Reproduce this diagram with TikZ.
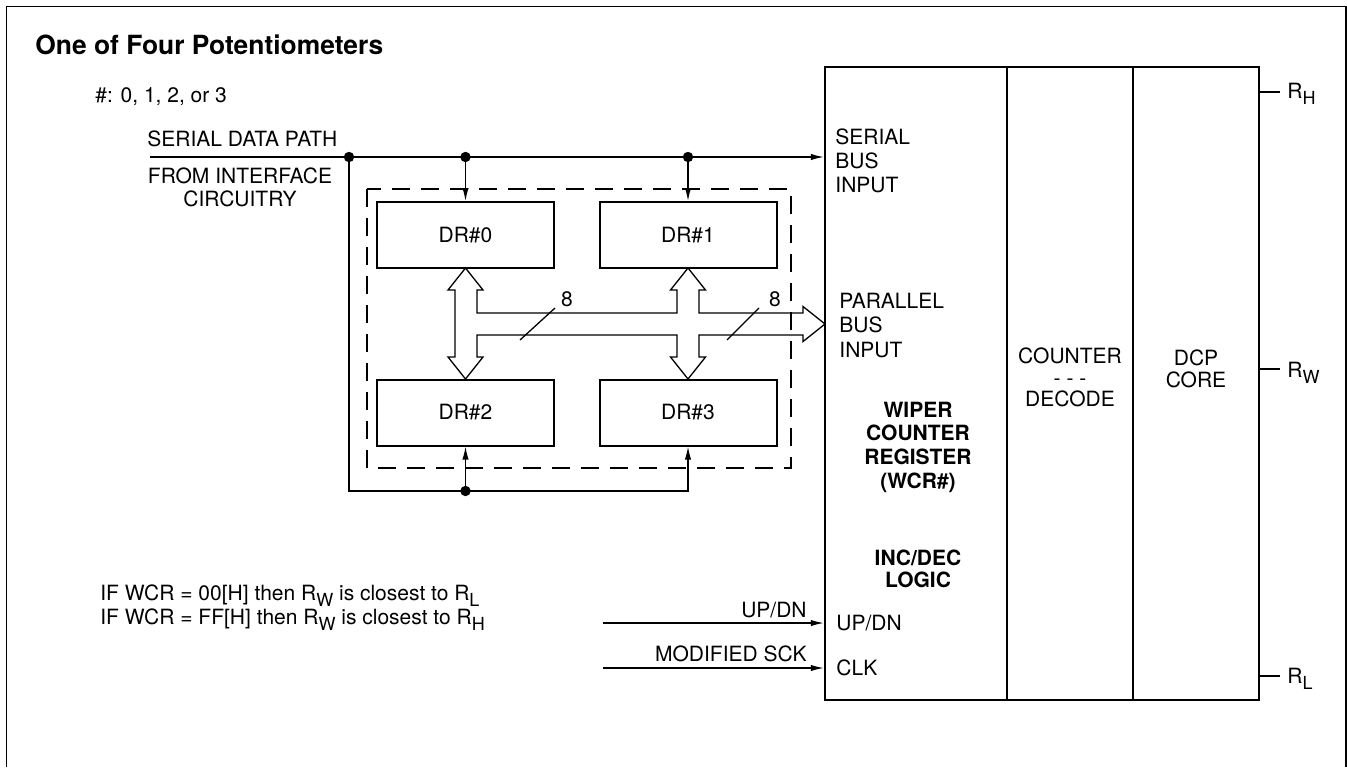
\documentclass[tikz,border=0pt]{standalone}
\usepackage{fontspec}
\setmainfont{TeX Gyre Heros}
\usetikzlibrary{arrows.meta}
\newcommand{\sbs}[1]{\raisebox{-0.32em}{\fontsize{9}{10}\selectfont #1}}
\begin{document}
\begin{tikzpicture}[x=0.5pt,y=-0.5pt,
  font=\fontsize{10.5}{12}\selectfont,
  wire/.style={line width=0.65pt},
  arr/.style={wire,-{Latex[length=6.5pt,width=3.2pt]}},
  reg/.style={draw,line width=1pt,minimum width=88.5pt,minimum height=33pt,inner sep=0pt},
  blk/.style={draw,line width=1.2pt,minimum height=316.5pt,inner sep=0pt},
  lbl/.style={inner sep=0pt},
  dsh/.style={wire,dash pattern=on 9pt off 5.5pt},
  jdot/.style={fill=black}]
\useasboundingbox (0,0) rectangle (1347,767);
% frame
\draw[line width=0.8pt] (6.5,767) -- (6.5,6.5) -- (1345.8,6.5) -- (1345.8,767);

% texts top-left
\node[lbl,anchor=base west,font=\bfseries\fontsize{13.2}{15}\selectfont] (title) at (35,54) {One of Four Potentiometers};
\node[lbl,anchor=base west] (hash) at (95,102) {\#: 0, 1, 2, or 3};
\node[lbl,anchor=base west] (sdp) at (147,146) {SERIAL DATA PATH};
\node[lbl,anchor=north,align=center,font=\fontsize{10.5}{11.5}\selectfont] (fic) at (240,167.5) {FROM INTERFACE\\CIRCUITRY};

% main blocks
\node[blk,minimum width=91pt] (wcr) at (916,383.5) {};
\node[blk,minimum width=63pt] (cnt) at (1070,383.5) {};
\node[blk,minimum width=63pt] (dcp) at (1196,383.5) {};

\node[lbl,anchor=north west,align=left,font=\fontsize{10.5}{12}\selectfont] (sbi) at (835,128) {SERIAL\\BUS\\INPUT};
\node[lbl,anchor=north west,align=left,font=\fontsize{10.5}{12.25}\selectfont] (pbi) at (839,292.5) {PARALLEL\\BUS\\INPUT};
\node[lbl,anchor=north,align=center,font=\bfseries\fontsize{10.5}{11.8}\selectfont] (wtx) at (918,401.5) {WIPER\\COUNTER\\REGISTER\\(WCR\#)};
\node[lbl,anchor=north,align=center,font=\bfseries\fontsize{10.5}{11}\selectfont] (itx) at (918,549.5) {INC/DEC\\LOGIC};
\node[lbl,anchor=north,align=center,font=\fontsize{10.5}{10.75}\selectfont] (ctx) at (1070,347.5) {COUNTER\\- - -\\DECODE};
\node[lbl,anchor=north,align=center,font=\fontsize{10.5}{11}\selectfont] (dtx) at (1196,349.5) {DCP\\CORE};
\node[lbl,anchor=base west] (iud) at (836,630) {UP/DN};
\node[lbl,anchor=base west] (iclk) at (836,675.5) {CLK};

% R terminals
\node[lbl,anchor=base west] (rh) at (1287,98) {R\sbs{H}};
\node[lbl,anchor=base west] (rw) at (1287,377) {R\sbs{W}};
\node[lbl,anchor=base west] (rl) at (1287,683) {R\sbs{L}};
\draw[wire] (dcp.east |- 0,92) -- (1280,92);
\draw[wire] (dcp.east |- 0,369) -- (1280,369);
\draw[wire] (dcp.east |- 0,676) -- (1280,676);

% data registers
\node[reg] (dr0) at (465.5,235) {DR\#0};
\node[reg] (dr1) at (688,235) {DR\#1};
\node[reg] (dr2) at (465.5,412.5) {DR\#2};
\node[reg] (dr3) at (688,412.5) {DR\#3};

% serial path
\coordinate (sin) at (150,157);
\coordinate (sd0) at (349,157);
\coordinate (sd1) at (465.5,157);
\coordinate (sd2) at (688,157);
\coordinate (c1) at (349,491);
\coordinate (bd) at (465.5,491);
\coordinate (c2) at (688,491);
\draw[arr] (sin) -- (sin -| wcr.west);
\draw[arr] (sd1) -- (dr0.north);
\draw[arr] (sd2) -- (dr1.north);
\draw[wire] (sd0) -- (c1) -- (bd);
\draw[arr] (bd) -- (dr2.south);
\draw[arr] (bd) -- (c2) -- (dr3.south);
\foreach \p in {sd0,sd1,sd2,bd} \fill[jdot] (\p) circle (2.6pt);

% parallel bus (hollow arrows)
\draw[wire,fill=white]
  (465.5,268) -- (483,290) -- (477,290) -- (477,313) -- (677,313) -- (677,290) -- (670.5,290)
  -- (688,268) -- (705.5,290) -- (699,290) -- (699,313) -- (803,313) -- (803,306.5)
  -- (825,324) -- (803,341.5) -- (803,335) -- (699,335) -- (699,357) -- (705.5,357)
  -- (688,379) -- (670.5,357) -- (677,357) -- (677,335) -- (477,335) -- (477,357)
  -- (483,357) -- (465.5,379) -- (448,357) -- (455,357) -- (455,290) -- (448,290) -- cycle;
% dashed enclosure
\draw[dsh] (367,189) rectangle (791,468);
\coordinate (s1a) at (520,340); \coordinate (s1b) at (555,308);
\coordinate (s2a) at (727,340); \coordinate (s2b) at (759,308);
\draw[wire] (s1a) -- (s1b);
\draw[wire] (s2a) -- (s2b);
\node[lbl,anchor=base] (n8a) at (567,306) {8};
\node[lbl,anchor=base] (n8b) at (775,306) {8};

% UP/DN and CLK
\coordinate (ud) at (603,623);
\coordinate (ck) at (603,668);
\draw[arr] (ud) -- (ud -| wcr.west);
\draw[arr] (ck) -- (ck -| wcr.west);
\node[lbl,anchor=base east] (oud) at (807,617) {UP/DN};
\node[lbl,anchor=base east] (osck) at (807,661) {MODIFIED SCK};

% notes
\node[lbl,anchor=base west] (n1) at (100,600) {IF WCR = 00[H] then R\sbs{W} is closest to R\sbs{L}};
\node[lbl,anchor=base west] (n2) at (100,624) {IF WCR = FF[H] then R\sbs{W} is closest to R\sbs{H}};
\end{tikzpicture}
\end{document}
